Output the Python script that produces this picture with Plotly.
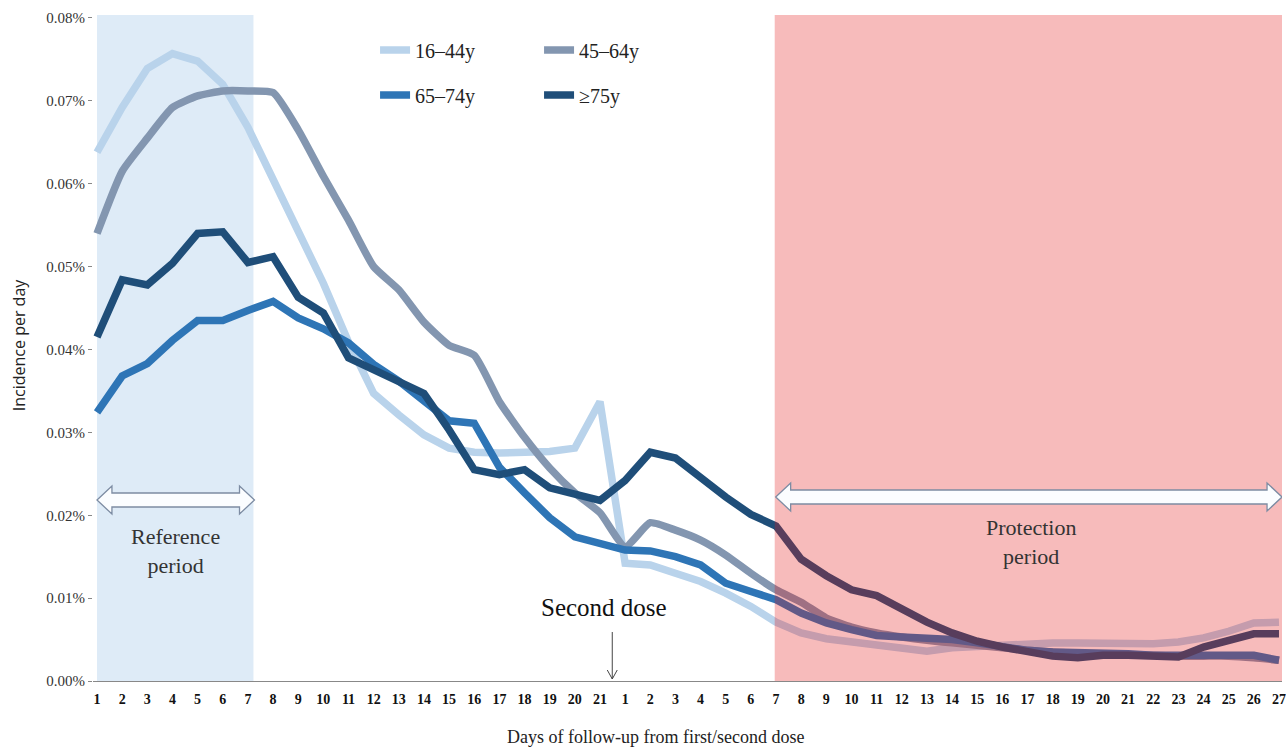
import plotly.graph_objects as go

# ---------------- data (incidence per day, %) ----------------
days_first = [str(d) for d in range(1, 22)]
days_second = [str(d) for d in range(1, 28)]
tick_labels = days_first + days_second

age_16_44 = [0.0638, 0.0692, 0.0739, 0.0757, 0.0748, 0.0720, 0.0668, 0.0607, 0.0544, 0.0480,
             0.0409, 0.0347, 0.0321, 0.0297, 0.0281, 0.0276, 0.0275, 0.0275, 0.0277, 0.0281,
             0.0337, 0.0142, 0.0140, 0.0130, 0.0120, 0.0106, 0.0090, 0.0071, 0.0058, 0.0051,
             0.0047, 0.0043, 0.0038, 0.0036, 0.0040, 0.0042, 0.0043, 0.0045, 0.0046, 0.0046,
             0.0045, 0.0046, 0.0045, 0.0047, 0.0052, 0.0060, 0.0070, 0.0071]
age_45_64 = [0.0540, 0.0615, 0.0655, 0.0692, 0.0706, 0.0712, 0.0712, 0.0710, 0.0665, 0.0609,
             0.0556, 0.0500, 0.0472, 0.0433, 0.0405, 0.0393, 0.0337, 0.0294, 0.0257, 0.0227,
             0.0203, 0.0162, 0.0191, 0.0182, 0.0170, 0.0152, 0.0130, 0.0110, 0.0095, 0.0076,
             0.0065, 0.0058, 0.0053, 0.0049, 0.0046, 0.0043, 0.0040, 0.0037, 0.0035, 0.0033,
             0.0032, 0.0031, 0.0031, 0.0030, 0.0030, 0.0030, 0.0028, 0.0025]
age_65_74 = [0.0324, 0.0368, 0.0383, 0.0411, 0.0435, 0.0435, 0.0447, 0.0458, 0.0438, 0.0425,
             0.0408, 0.0382, 0.0362, 0.0338, 0.0314, 0.0311, 0.0258, 0.0227, 0.0197, 0.0174,
             0.0165, 0.0158, 0.0157, 0.0150, 0.0140, 0.0118, 0.0108, 0.0098, 0.0082, 0.0070,
             0.0062, 0.0055, 0.0053, 0.0052, 0.0050, 0.0046, 0.0041, 0.0037, 0.0035, 0.0035,
             0.0034, 0.0033, 0.0031, 0.0031, 0.0033, 0.0033, 0.0031, 0.0025]
age_75_plus = [0.0415, 0.0484, 0.0478, 0.0504, 0.0540, 0.0542, 0.0505, 0.0512, 0.0463, 0.0444,
               0.0390, 0.0375, 0.0360, 0.0347, 0.0303, 0.0255, 0.0249, 0.0255, 0.0233, 0.0226,
               0.0218, 0.0242, 0.0276, 0.0269, 0.0245, 0.0222, 0.0201, 0.0187, 0.0147, 0.0127,
               0.0110, 0.0103, 0.0087, 0.0071, 0.0058, 0.0048, 0.0041, 0.0035, 0.0030, 0.0028,
               0.0031, 0.0031, 0.0030, 0.0029, 0.0041, 0.0050, 0.0057, 0.0057]

series_names = ["16\u201344y", "45\u201364y", "65\u201374y", "\u226575y"]
series_colors = ["#b9d3eb", "#8396b0", "#2e75b6", "#1f4e79"]

y_ticks = [0.00, 0.01, 0.02, 0.03, 0.04, 0.05, 0.06, 0.07, 0.08]

# ---------------- layout geometry ----------------
W, H = 1286, 747
ML, MR, MT, MB = 93, 0, 15, 66
XR = [-0.16, len(tick_labels) - 1 + 0.12]
YR = [0, 0.08036]
PW = W - ML - MR
PH = H - MT - MB


def X(px):
    return XR[0] + (px - ML) / PW * (XR[1] - XR[0])


def Y(py):
    return YR[0] + (H - MB - py) / PH * (YR[1] - YR[0])


def double_arrow(xl, xr, yc, sh=7, hh=14, hl=15):
    pts = [(xl, yc), (xl + hl, yc - hh), (xl + hl, yc - sh), (xr - hl, yc - sh),
           (xr - hl, yc - hh), (xr, yc), (xr - hl, yc + hh), (xr - hl, yc + sh),
           (xl + hl, yc + sh), (xl + hl, yc + hh)]
    d = "M " + " L ".join(f"{X(a):.4f},{Y(b):.6f}" for a, b in pts) + " Z"
    return dict(type="path", path=d, xref="x", yref="y", fillcolor="#fbfdff",
                line=dict(color="#7d8ca3", width=1.3), layer="above")


x_idx = list(range(len(tick_labels)))

fig = go.Figure()
all_series = [age_16_44, age_45_64, age_65_74, age_75_plus]
for i, (name, vals, col) in enumerate(zip(series_names, all_series, series_colors)):
    fig.add_trace(go.Scatter(
        x=x_idx, y=vals, name=name, mode="lines",
        line=dict(color=col, width=7.5, shape="spline" if i == 1 else "linear", smoothing=0.5),
        legend="legend" if i < 2 else "legend2",
        hoverinfo="skip",
    ))

serif = "Liberation Serif"

shapes = [
    dict(type="rect", xref="x", yref="y", x0=X(97), x1=X(254), y0=0, y1=Y(15),
         fillcolor="#deebf7", line=dict(width=0), layer="below"),
    dict(type="rect", xref="x", yref="y", x0=X(777), x1=X(1286), y0=0, y1=Y(15),
         fillcolor="rgba(228,22,22,0.29)", line=dict(width=0), layer="above"),
    double_arrow(97, 255, 500),
    double_arrow(778, 1286, 497),
    dict(type="line", xref="x", yref="y", x0=X(614), x1=X(614), y0=Y(632), y1=Y(679),
         line=dict(color="#444", width=1), layer="above"),
    dict(type="path", xref="x", yref="y",
         path=f"M {X(609):.4f},{Y(670):.6f} L {X(614):.4f},{Y(679):.6f} L {X(619):.4f},{Y(670):.6f}",
         line=dict(color="#444", width=1), layer="above"),
]

annotations = [
    dict(text="Reference<br>period", x=X(176), y=Y(551), xref="x", yref="y", showarrow=False,
         font=dict(family=serif, size=22, color="#333"), align="center"),
    dict(text="Protection<br>period", x=X(1034), y=Y(542), xref="x", yref="y", showarrow=False,
         font=dict(family=serif, size=22, color="#333"), align="center"),
    dict(text="Second dose", x=X(606), y=Y(607), xref="x", yref="y", showarrow=False,
         font=dict(family=serif, size=25, color="#111")),
    dict(text="Days of follow-up from first/second dose", x=(657 - ML) / PW, y=-(737 - (H - MB)) / PH,
         xref="paper", yref="paper", showarrow=False, yanchor="middle",
         font=dict(family=serif, size=18, color="#222")),
    dict(text="Incidence per day", x=-(ML - 19) / PW, y=(H - MB - 345) / PH, xref="paper", yref="paper",
         showarrow=False, textangle=-90, xanchor="center", yanchor="middle",
         font=dict(family="Open Sans", size=16, color="#222")),
]

leg_common = dict(orientation="h", xanchor="left", yanchor="middle",
                  font=dict(family=serif, size=20, color="#222"), bgcolor="rgba(0,0,0,0)",
                  entrywidth=119, entrywidthmode="pixels", itemwidth=30, tracegroupgap=0)

fig.update_layout(
    width=W, height=H,
    margin=dict(l=ML, r=MR, t=MT, b=MB, pad=0),
    paper_bgcolor="white", plot_bgcolor="white",
    shapes=shapes, annotations=annotations,
    legend=dict(x=(376 - ML) / PW, y=(H - MB - 50) / PH, **leg_common),
    legend2=dict(x=(376 - ML) / PW, y=(H - MB - 95) / PH, **leg_common),
    showlegend=True,
)

fig.update_xaxes(range=XR, tickmode="array", tickvals=x_idx, ticktext=tick_labels,
                 showgrid=False, zeroline=False, showline=True, linecolor="#888", linewidth=1.2,
                 ticks="", tickfont=dict(family=serif, size=14, color="#111", weight="bold"),
                 ticklabelstandoff=5, ticklabeloverflow="allow")
fig.update_yaxes(range=YR, tickmode="array", tickvals=y_ticks,
                 ticktext=[f"{v:.2f}%" for v in y_ticks],
                 showgrid=False, zeroline=False, showline=False, ticks="outside", ticklen=4,
                 tickcolor="#888", tickfont=dict(family=serif, size=15, color="#333"))

fig.write_html("out.html", config={"displayModeBar": False},
               post_script="document.body.style.margin='0';document.body.style.overflow='hidden';")
